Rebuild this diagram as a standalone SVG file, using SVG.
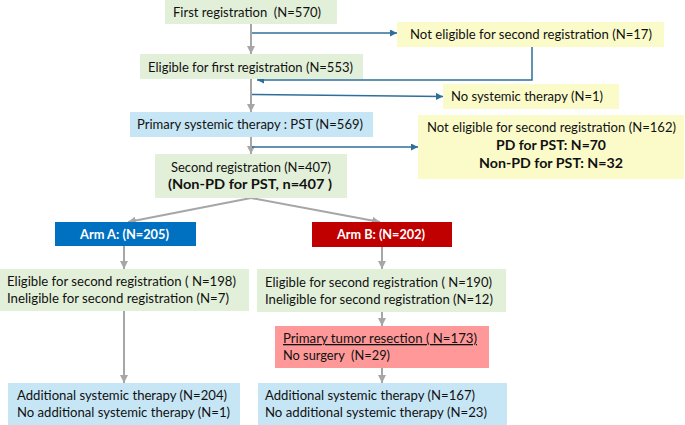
<svg xmlns="http://www.w3.org/2000/svg" width="685" height="425" viewBox="0 0 685 425">
<defs>
<style>
text{font-family:Lato,"Liberation Sans",Arial,sans-serif;font-size:13px;fill:#111111}
.b{font-weight:bold;font-size:14px}
.w{fill:#ffffff;font-weight:bold;font-size:14px}
.g{fill:#e2f0d9}
.y{fill:#fbfbca}
.lb{fill:#c7e6f5}
.gl{stroke:#a6a6a6;stroke-width:2;fill:none;marker-end:url(#ga)}
.bl{stroke:#2e6f99;stroke-width:1.5;fill:none;marker-end:url(#ba)}
</style>
<marker id="ga" viewBox="0 0 8 8" refX="8" refY="4" markerWidth="8" markerHeight="8" markerUnits="userSpaceOnUse" orient="auto"><path d="M0,0 L8,4 L0,8 z" fill="#a6a6a6"/></marker>
<marker id="ba" viewBox="0 0 8 8" refX="8" refY="4" markerWidth="7" markerHeight="7" markerUnits="userSpaceOnUse" orient="auto"><path d="M0,0 L8,4 L0,8 z" fill="#2e6f99"/></marker>
</defs>
<rect width="685" height="425" fill="#ffffff"/>
<g id="connectors">
<line class="gl" x1="251" y1="24" x2="251" y2="54"/>
<line class="gl" x1="251" y1="79" x2="251" y2="112"/>
<line class="gl" x1="251" y1="137" x2="251" y2="154"/>
<line class="gl" x1="251" y1="198" x2="128" y2="222"/>
<line class="gl" x1="251" y1="198" x2="380" y2="222"/>
<line class="gl" x1="124" y1="246" x2="124" y2="269"/>
<line class="gl" x1="382" y1="247" x2="382" y2="269"/>
<line class="gl" x1="124" y1="311" x2="124" y2="383"/>
<line class="gl" x1="382" y1="312" x2="382" y2="326"/>
<line class="gl" x1="382" y1="368" x2="382" y2="383"/>
<line class="bl" x1="252" y1="33" x2="397" y2="33"/>
<polyline class="bl" points="532,47 532,80 257,80"/>
<line class="bl" x1="252" y1="94.5" x2="443" y2="96.5"/>
<line class="bl" x1="252" y1="147" x2="418" y2="147"/>
</g>
<g id="first-registration">
<rect class="g" x="165" y="0" width="172" height="24"/>
<text x="173" y="17" textLength="148" lengthAdjust="spacingAndGlyphs">First registration&#160; (N=570)</text>
</g>
<g id="eligible-first">
<rect class="g" x="140" y="54" width="223" height="25"/>
<text x="148" y="72" textLength="205" lengthAdjust="spacingAndGlyphs">Eligible for first registration (N=553)</text>
</g>
<g id="not-eligible-17">
<rect class="y" x="397" y="22" width="267" height="25"/>
<text x="410" y="39" textLength="242" lengthAdjust="spacingAndGlyphs">Not eligible for second registration (N=17)</text>
</g>
<g id="no-systemic">
<rect class="y" x="443" y="84" width="176" height="25"/>
<text x="451" y="101" textLength="152" lengthAdjust="spacingAndGlyphs">No systemic therapy (N=1)</text>
</g>
<g id="pst">
<rect class="lb" x="130" y="112" width="243" height="25"/>
<text x="137" y="129" textLength="226" lengthAdjust="spacingAndGlyphs">Primary systemic therapy : PST (N=569)</text>
</g>
<g id="not-eligible-162">
<rect class="y" x="418" y="115" width="266" height="64"/>
<text x="427" y="132" textLength="249" lengthAdjust="spacingAndGlyphs">Not eligible for second registration (N=162)</text>
<text class="b" x="496" y="150" textLength="110" lengthAdjust="spacingAndGlyphs">PD for PST: N=70</text>
<text class="b" x="479" y="168" textLength="144" lengthAdjust="spacingAndGlyphs">Non-PD for PST: N=32</text>
</g>
<g id="second-registration">
<rect class="g" x="155" y="154" width="192" height="44"/>
<text x="171" y="172" textLength="160" lengthAdjust="spacingAndGlyphs">Second registration (N=407)</text>
<text class="b" x="168" y="189" textLength="164" lengthAdjust="spacingAndGlyphs">(Non-PD for PST, n=407 )</text>
</g>
<g id="arm-a">
<rect x="55" y="222" width="141" height="24" fill="#0070c0"/>
<text class="w" x="80" y="239" textLength="89" lengthAdjust="spacingAndGlyphs">Arm A: (N=205)</text>
</g>
<g id="arm-b">
<rect x="312" y="222" width="140" height="25" fill="#c00000"/>
<text class="w" x="337" y="239" textLength="88" lengthAdjust="spacingAndGlyphs">Arm B: (N=202)</text>
</g>
<g id="eligible-a">
<rect class="g" x="0" y="269" width="249" height="42"/>
<text x="7" y="286" textLength="229" lengthAdjust="spacingAndGlyphs">Eligible for second registration ( N=198)</text>
<text x="7" y="303" textLength="222" lengthAdjust="spacingAndGlyphs">Ineligible for second registration (N=7)</text>
</g>
<g id="eligible-b">
<rect class="g" x="257" y="269" width="249" height="43"/>
<text x="265" y="287" textLength="227" lengthAdjust="spacingAndGlyphs">Eligible for second registration ( N=190)</text>
<text x="265" y="304" textLength="228" lengthAdjust="spacingAndGlyphs">Ineligible for second registration (N=12)</text>
</g>
<g id="resection">
<rect x="275" y="326" width="214" height="42" fill="#ff9999"/>
<text x="283" y="343" textLength="194" lengthAdjust="spacingAndGlyphs" text-decoration="underline">Primary tumor resection ( N=173)</text>
<text x="283" y="360" textLength="107" lengthAdjust="spacingAndGlyphs">No surgery&#160; (N=29)</text>
</g>
<g id="additional-a">
<rect class="lb" x="8" y="383" width="232" height="42"/>
<text x="17" y="400" textLength="210" lengthAdjust="spacingAndGlyphs">Additional systemic therapy (N=204)</text>
<text x="17" y="417" textLength="213" lengthAdjust="spacingAndGlyphs">No additional systemic therapy (N=1)</text>
</g>
<g id="additional-b">
<rect class="lb" x="258" y="383" width="249" height="42"/>
<text x="265" y="400" textLength="210" lengthAdjust="spacingAndGlyphs">Additional systemic therapy (N=167)</text>
<text x="265" y="417" textLength="222" lengthAdjust="spacingAndGlyphs">No additional systemic therapy (N=23)</text>
</g>
</svg>
